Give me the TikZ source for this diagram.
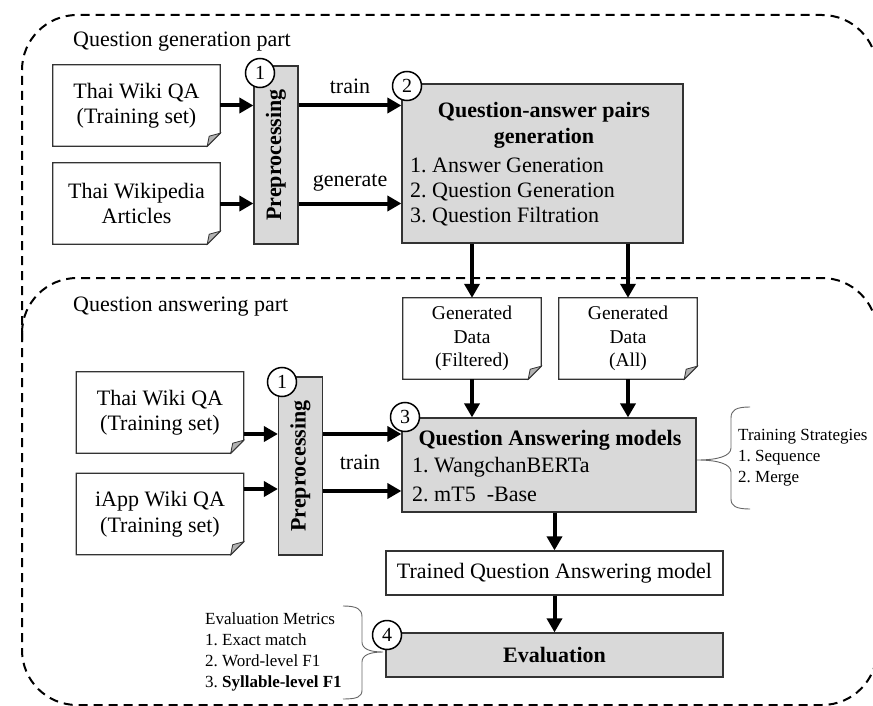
\documentclass[tikz,border=0pt]{standalone}
\usepackage{fontspec}
\setmainfont{Liberation Serif}
\usetikzlibrary{arrows.meta}
\AtBeginDocument{\frenchspacing}

% document-style box: cut bottom-right corner with a folded dog-ear
\newcommand\docbox[1]{%
  \draw[boxline] (#1.north west) -- (#1.north east)
    -- ([yshift=13pt]#1.south east) -- ([xshift=-13pt]#1.south east)
    -- (#1.south west) -- cycle;
  \draw[draw=black!80, line width=0.8pt, fill=black!30]
    ([yshift=13pt]#1.south east) -- ([xshift=-13pt]#1.south east)
    -- ([xshift=-11pt,yshift=10pt]#1.south east) -- cycle;}

\begin{document}
\begin{tikzpicture}[x=1pt,y=-1pt,
  every node/.style={font=\fontsize{22}{25.5}\selectfont, inner sep=0pt},
  boxline/.style={draw=black!80, line width=1.2pt},
  docnode/.style={minimum width=167pt, minimum height=81pt, align=center},
  gendoc/.style={minimum width=138pt, minimum height=81pt, align=center,
    font=\fontsize{19.5}{23.5}\selectfont},
  greybox/.style={boxline, fill=black!15},
  prep/.style={greybox, minimum width=44pt, minimum height=178pt},
  boldtext/.style={font=\bfseries\fontsize{22}{25.5}\selectfont},
  stepnum/.style={circle, draw=black, line width=1.5pt, fill=white,
    minimum size=29pt, font=\fontsize{20}{20}\selectfont},
  arr/.style={line width=4pt, -{Triangle[length=14pt,width=15pt]}},
  dashline/.style={line width=2pt, dash pattern=on 9pt off 6pt},
  note/.style={align=left, anchor=west, font=\fontsize{17}{21}\selectfont},
  brace/.style={draw=black!60, line width=0.9pt},
]
\clip (0,0) rectangle (873,706);

% part frames
\draw[dashline, rounded corners=55pt] (22,340) -- (22,15) -- (877,15) -- (877,340);
\draw[dashline, rounded corners=55pt] (22,278) rectangle (877,705);
\node[anchor=west] (qgpart) at (73,42) {Question generation part};
\node[anchor=west] (qapart) at (73,307) {Question answering part};

% ---- question generation ----
\node[docnode] (tq1) at (136.5,105.5) {Thai Wiki QA\\(Training set)};
\docbox{tq1}
\node[docnode] (tw) at (136.5,203.5) {Thai Wikipedia\\Articles};
\docbox{tw}
\node[prep] (pp1) at (276,155) {};
\node[rotate=90, boldtext] (pp1t) at (pp1.center) {Preprocessing};

\node[greybox, minimum width=281pt, minimum height=159pt] (qag) at (542.5,163.5) {};
\node[boldtext] (qagt1) at (544,112) {Question-answer pairs};
\node[boldtext] (qagt2) at (544,138) {generation};
\node[anchor=west] (qagl1) at (410,165) {1. Answer Generation};
\node[anchor=west] (qagl2) at (410,192) {2. Question Generation};
\node[anchor=west] (qagl3) at (410,217) {3. Question Filtration};

\draw[arr] (tq1.east) -- (tq1.east -| pp1.west);
\draw[arr] (tw.east) -- (tw.east -| pp1.west);
\draw[arr] (tq1.east -| pp1.east) -- node[yshift=19.5pt] (lbtrain1) {train} (tq1.east -| qag.west);
\draw[arr] (tw.east -| pp1.east) -- node[yshift=21pt] (lbgen) {generate} (tw.east -| qag.west);

% ---- generated data ----
\node[gendoc] (fil) at (472,338.5) {Generated\\Data\\(Filtered)};
\docbox{fil}
\node[gendoc] (all) at (628,338.5) {Generated\\Data\\(All)};
\docbox{all}
\draw[arr] (qag.south -| fil.north) -- (fil.north);
\draw[arr] (qag.south -| all.north) -- (all.north);

% ---- question answering ----
\node[docnode] (tq2) at (160,412.5) {Thai Wiki QA\\(Training set)};
\docbox{tq2}
\node[docnode] (ia) at (160,514) {iApp Wiki QA\\(Training set)};
\docbox{ia}
\node[prep] (pp2) at (300.5,466) {};
\node[rotate=90, boldtext] (pp2t) at (pp2.center) {Preprocessing};

\node[greybox, minimum width=294pt, minimum height=94pt] (qam) at (549,465) {};
\node[boldtext] (qamt) at (550,440) {Question Answering models};
\node[anchor=west] (qaml1) at (412,467) {1. WangchanBERTa};
\node[anchor=west] (qaml2) at (412,494) {2. mT5\ \ -Base};

\draw[arr] (fil.south) -- (fil.south |- qam.north);
\draw[arr] (all.south) -- (all.south |- qam.north);

\draw[arr] ([yshift=-21.5pt]tq2.east) -- ([yshift=-21.5pt]tq2.east -| pp2.west);
\draw[arr] ([yshift=25pt]ia.east) -- ([yshift=25pt]ia.east -| pp2.west);
\draw[arr] ([yshift=-21.5pt]tq2.east -| pp2.east) -- ([yshift=-21.5pt]tq2.east -| qam.west);
\draw[arr] ([yshift=23pt]ia.east -| pp2.east) -- ([yshift=23pt]ia.east -| qam.west);
\node (lbtrain2) at (360,462) {train};

\node[boxline, minimum width=337pt, minimum height=44pt] (trn) at (554.5,573) {Trained Question Answering model};
\node[greybox, boldtext, minimum width=337pt, minimum height=44pt] (ev) at (554.5,655) {Evaluation};
\draw[arr] (qam.south -| trn.north) -- (trn.north);
\draw[arr] (trn.south) -- (ev.north);

% step numbers
\node[stepnum] (n1a) at (260,73) {1};
\node[stepnum] (n2) at (407,86) {2};
\node[stepnum] (n1b) at (282,382) {1};
\node[stepnum] (n3) at (405,417) {3};
\node[stepnum] (n4) at (387,635) {4};

% side notes with braces
\node[note] (strat) at (738,458) {Training Strategies\\1. Sequence\\2. Merge};
\draw[brace] (750,407) .. controls (736,407) and (731,410) .. (731,418) -- (731,448)
  .. controls (731,456) and (718,460) .. (697,460)
  .. controls (718,460) and (731,464) .. (731,472) -- (731,499)
  .. controls (731,506) and (736,509) .. (750,509);

\node[note] (metrics) at (205,651.5) {Evaluation Metrics\\1. Exact match\\2. Word-level F1\\3. \textbf{Syllable-level F1}};
\draw[brace] (343,606) .. controls (357,606) and (362,609) .. (362,617) -- (362,642)
  .. controls (362,649) and (370,652) .. (383,652)
  .. controls (370,652) and (362,655) .. (362,662) -- (362,690)
  .. controls (362,697) and (357,699) .. (343,699);
\end{tikzpicture}
\end{document}
